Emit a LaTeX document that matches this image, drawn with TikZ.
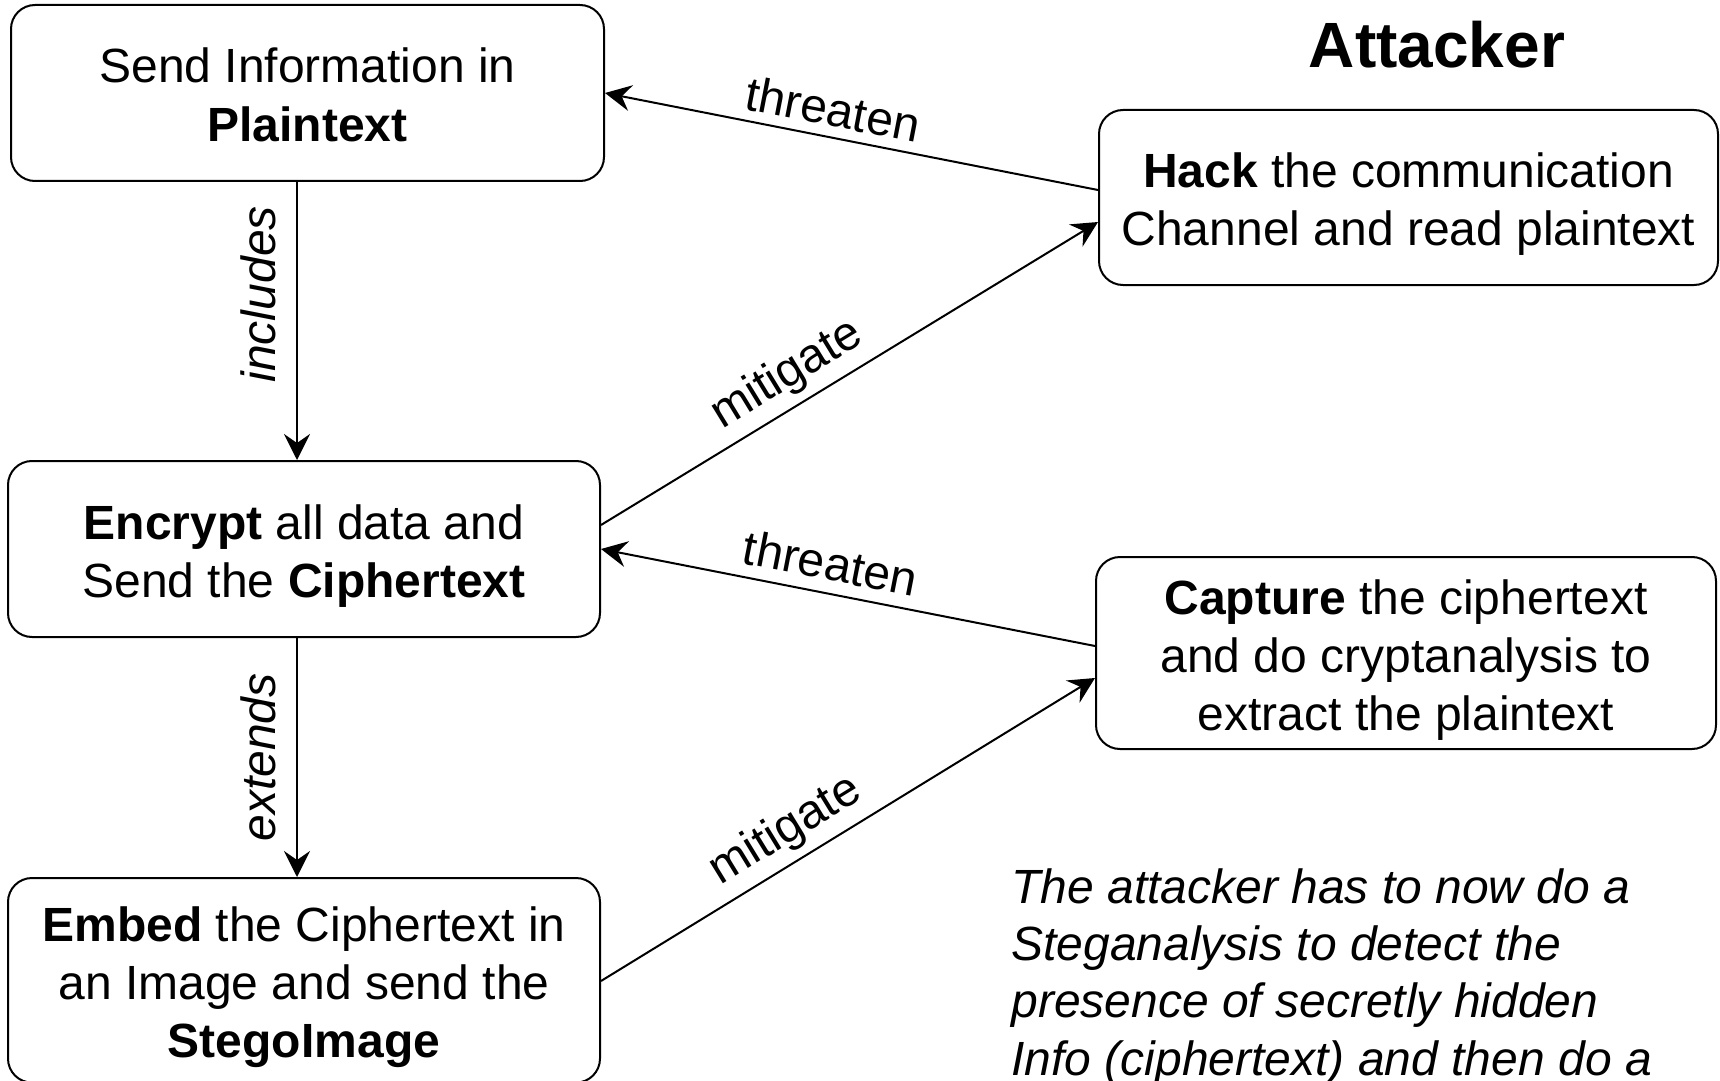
\documentclass[tikz,border=0pt]{standalone}
\usepackage{fontspec}
\setmainfont{Liberation Sans}
\usetikzlibrary{arrows.meta}
\newcommand\tstr{\rule{0pt}{24.5pt}}
\newcommand\bstr{\rule[-5.5pt]{0pt}{5.5pt}}
\begin{document}
\begin{tikzpicture}[x=0.5pt,y=-0.5pt,
  box/.style={draw, line width=1pt, rounded corners=12pt, align=center, inner sep=0pt,
    font=\fontsize{24}{29}\selectfont},
  conn/.style={line width=1pt, -{Stealth[length=13pt,width=13pt,inset=4.5pt]}},
  lab/.style={font=\fontsize{24}{29}\selectfont, inner sep=0pt},
  ]
\useasboundingbox (0,0) rectangle (1720,1081);
% boxes
\node[box, minimum width=296.5pt, minimum height=88pt] (A) at (307.5,93)
  {\tstr Send Information in\\\bstr\textbf{Plaintext}};
\node[box, minimum width=296pt, minimum height=88pt] (B) at (304,549)
  {\tstr\textbf{Encrypt} all data and\\\bstr Send the \textbf{Ciphertext}};
\node[box, minimum width=296pt, minimum height=102.3pt] (C) at (304,980.3)
  {\tstr\textbf{Embed} the Ciphertext in\\an Image and send the\\\bstr\textbf{StegoImage}};
\node[box, minimum width=309.5pt, minimum height=87.5pt] (D) at (1408.5,197.5)
  {\tstr\textbf{Hack} the communication\\\bstr Channel and read plaintext};
\node[box, minimum width=310pt, minimum height=96pt] (E) at (1406,653)
  {\tstr\textbf{Capture} the ciphertext\\and do cryptanalysis to\\\bstr extract the plaintext};
% title and note
\node[inner sep=0pt, font=\fontsize{32}{38}\selectfont\bfseries] (T) at (1437,45) {Attacker};
\node[anchor=north west, align=left, inner sep=0pt, font=\fontsize{24}{28.7}\selectfont\itshape] (N) at (1011,868)
  {The attacker has to now do a\\Steganalysis to detect the\\presence of secretly hidden\\Info (ciphertext) and then do a};
% helper coordinates
\coordinate (vx) at (297,0);
\coordinate (yDA) at (0,190);
\coordinate (yBD1) at (0,525);
\coordinate (yBD2) at (0,222);
\coordinate (yEB) at (0,646);
\coordinate (yCE1) at (0,981);
\coordinate (yCE2) at (0,678);
% connectors
\draw[conn] (A.south -| vx) -- (B.north -| vx)
  node[lab, pos=0.404, xshift=-19.5pt, rotate=90, font=\fontsize{24}{29}\selectfont\itshape] {includes};
\draw[conn] (B.south -| vx) -- (C.north -| vx)
  node[lab, pos=0.5, xshift=-19.5pt, rotate=90, font=\fontsize{24}{29}\selectfont\itshape] {extends};
\draw[conn] (D.west |- yDA) -- (A.east)
  node[lab, pos=0.537, yshift=14.4pt, rotate=-10.95] {threaten};
\draw[conn] (B.east |- yBD1) -- (D.west |- yBD2)
  node[lab, pos=0.375, yshift=18.2pt, rotate=31.47] {mitigate};
\draw[conn] (E.west |- yEB) -- (B.east)
  node[lab, pos=0.535, yshift=15.5pt, rotate=-11.07] {threaten};
\draw[conn] (C.east |- yCE1) -- (E.west |- yCE2)
  node[lab, pos=0.3745, yshift=18.25pt, rotate=31.52] {mitigate};
\end{tikzpicture}
\end{document}
